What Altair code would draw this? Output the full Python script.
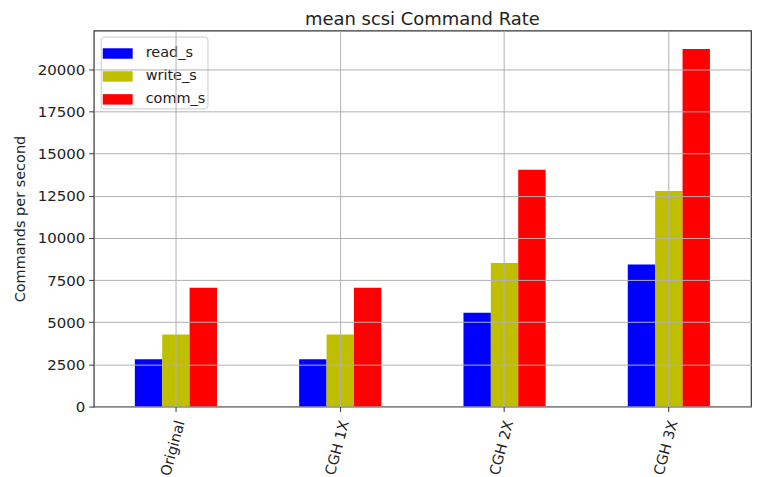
import altair as alt
import pandas as pd

categories = ["Original", "CGH 1X", "CGH 2X", "CGH 3X"]
series = ["read_s", "write_s", "comm_s"]
read_s = [2800, 2800, 5560, 8430]
write_s = [4280, 4280, 8520, 12790]
comm_s = [7040, 7040, 14050, 21210]
colors = ["#0000ff", "#bfbf00", "#ff0000"]
y_ticks = [0, 2500, 5000, 7500, 10000, 12500, 15000, 17500, 20000]

rows = []
for name, vals in zip(series, [read_s, write_s, comm_s]):
    for c, v in zip(categories, vals):
        rows.append({"category": c, "series": name, "value": v})
df = pd.DataFrame(rows)

FONT = "DejaVu Sans"

chart = (
    alt.Chart(df)
    .mark_bar()
    .encode(
        x=alt.X(
            "category:N",
            sort=categories,
            scale=alt.Scale(paddingInner=0.5, paddingOuter=0.25),
            axis=alt.Axis(
                title=None,
                labelAngle=-75,
                labelFontSize=14.5,
                labelColor="#222",
                labelPadding=9,
                labelOffset=5,
                tickSize=5,
                tickColor="#333",
                grid=True,
                gridColor="#b0b0b0",
                gridWidth=1,
                bandPosition=0.5,
                domain=False,
                zindex=1,
            ),
        ),
        xOffset=alt.XOffset(
            "series:N", sort=series, scale=alt.Scale(paddingInner=0, paddingOuter=0)
        ),
        y=alt.Y(
            "value:Q",
            scale=alt.Scale(domain=[0, 22300], nice=False),
            axis=alt.Axis(
                title="Commands per second",
                titleFontSize=14.5,
                titleFontWeight="normal",
                titleColor="#222",
                titlePadding=10,
                values=y_ticks,
                format="d",
                labelFontSize=15,
                labelColor="#222",
                labelPadding=4,
                tickSize=5,
                tickColor="#333",
                grid=True,
                gridColor="#b0b0b0",
                gridWidth=1,
                domain=False,
                zindex=1,
            ),
        ),
        color=alt.Color(
            "series:N",
            sort=series,
            scale=alt.Scale(domain=series, range=colors),
            legend=alt.Legend(
                title=None,
                orient="none",
                legendX=7,
                legendY=6,
                fillColor="white",
                strokeColor="#cccccc",
                cornerRadius=3,
                padding=2,
                labelFontSize=14.5,
                labelColor="#222",
                labelOffset=13,
                symbolType="M-1,-0.35H1V0.35H-1Z",
                symbolSize=900,
                symbolStrokeWidth=0,
                symbolOpacity=1,
                rowPadding=1,
            ),
        ),
    )
    .properties(
        width=659,
        height=377,
        title=alt.TitleParams(
            "mean scsi Command Rate",
            fontSize=18,
            fontWeight="normal",
            color="#222",
            anchor="middle",
            offset=2,
        ),
        autosize=alt.AutoSizeParams(type="none"),
        padding={"left": 86, "top": 22, "right": 2, "bottom": 70},
    )
    .configure(font=FONT)
    .configure_view(stroke="#333", strokeWidth=1.2)
)

chart.save("out.html", embed_options={"renderer": "svg", "actions": False})
